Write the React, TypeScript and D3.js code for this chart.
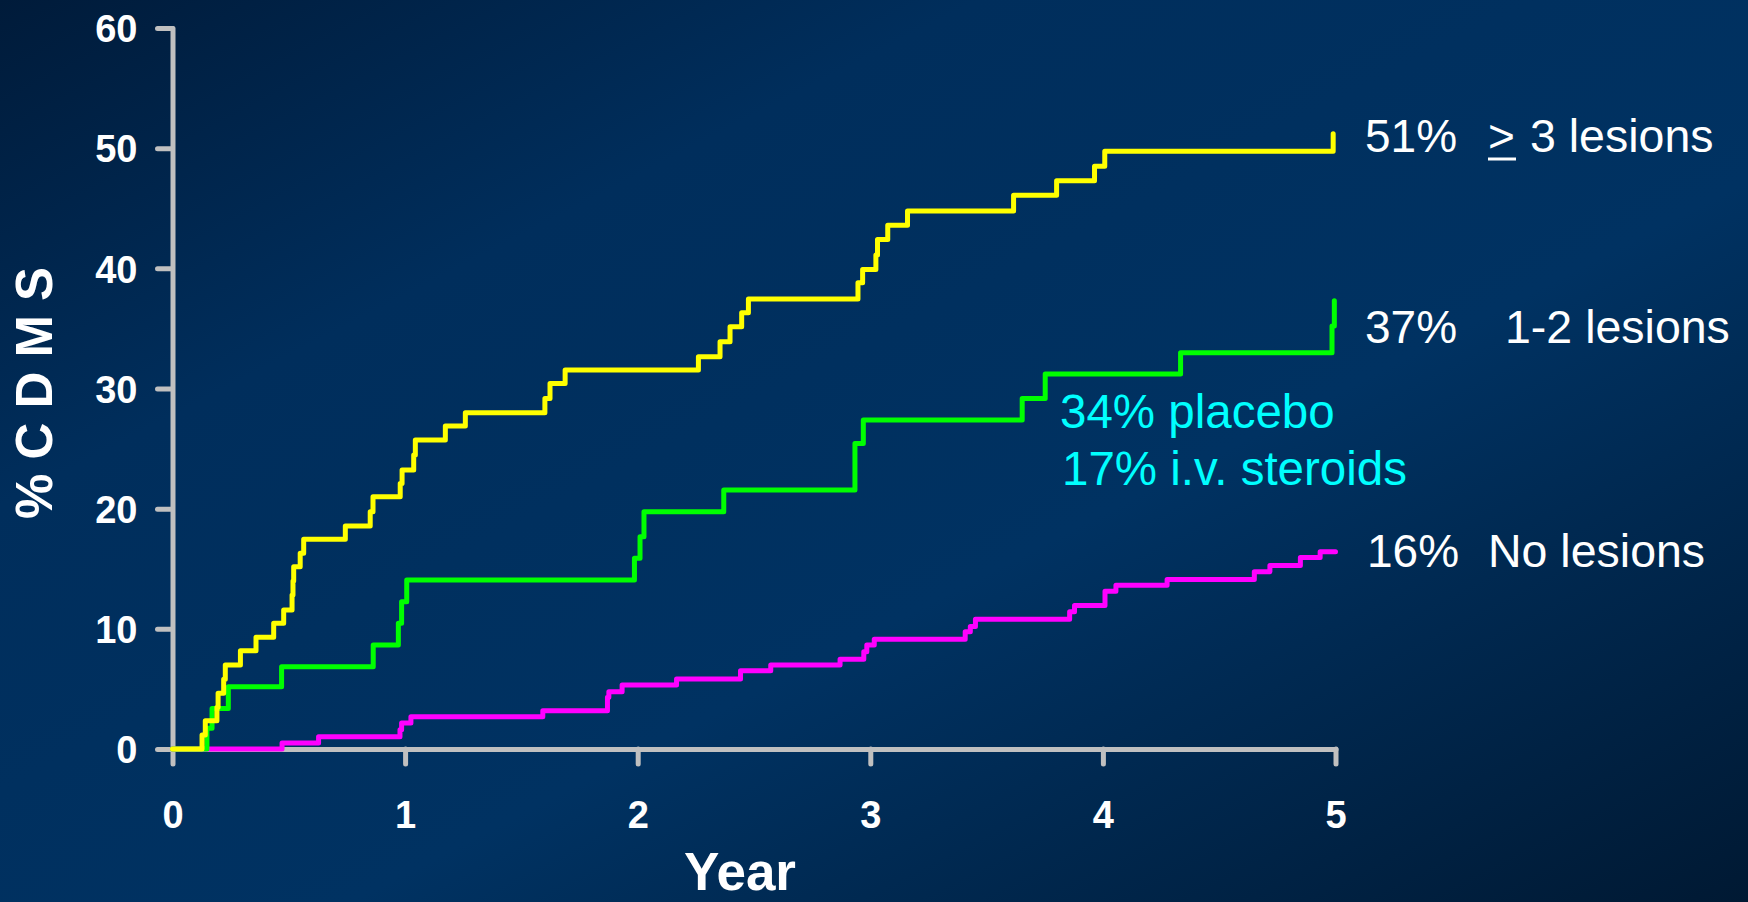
import { useRef, useEffect } from 'react';
import * as d3 from 'd3';

// Kaplan-Meier style step data: [year, % CDMS]
const threePlusLesions: [number, number][] = [
  [0, 0], [0.127, 1.16], [0.141, 2.35], [0.191, 3.47], [0.196, 4.63], [0.22, 5.8], [0.227, 6.99],
  [0.292, 8.18], [0.359, 9.29], [0.435, 10.46], [0.478, 11.56], [0.514, 12.81], [0.518, 13.98],
  [0.521, 15.17], [0.549, 16.28], [0.564, 17.45], [0.743, 18.55], [0.85, 19.74], [0.862, 20.99],
  [0.979, 22.1], [0.987, 23.21], [1.037, 24.46], [1.044, 25.71], [1.173, 26.87], [1.259, 27.98],
  [1.601, 29.17], [1.623, 30.42], [1.688, 31.53], [2.261, 32.64], [2.354, 33.89], [2.397, 35.13],
  [2.447, 36.3], [2.476, 37.44], [2.947, 38.8], [2.967, 39.91], [3.024, 41.1], [3.031, 42.4],
  [3.075, 43.59], [3.16, 44.78], [3.616, 46.09], [3.801, 47.28], [3.964, 48.5], [4.008, 49.75],
  [4.99, 51.2],
];

const oneTwoLesions: [number, number][] = [
  [0, 0], [0.148, 1.72], [0.17, 3.38], [0.24, 5.18], [0.469, 6.85], [0.863, 8.65], [0.971, 10.46],
  [0.985, 12.25], [1.007, 14.06], [1.986, 15.87], [2.01, 17.66], [2.027, 19.74], [2.37, 21.55],
  [2.934, 25.43], [2.97, 27.37], [3.653, 29.17], [3.752, 31.2], [4.334, 32.97], [4.985, 35.2],
  [4.995, 37.3],
];

const noLesions: [number, number][] = [
  [0, 0], [0.471, 0.5], [0.628, 1.02], [0.978, 1.6], [0.985, 2.16], [1.025, 2.69], [1.592, 3.19],
  [1.87, 4.3], [1.876, 4.77], [1.933, 5.32], [2.167, 5.82], [2.442, 6.52], [2.572, 6.99],
  [2.87, 7.46], [2.972, 8.1], [2.985, 8.65], [3.017, 9.13], [3.408, 9.76], [3.43, 10.2],
  [3.452, 10.79], [3.857, 11.42], [3.878, 11.95], [4.009, 13.12], [4.056, 13.62], [4.276, 14.1],
  [4.651, 14.75], [4.718, 15.28], [4.849, 15.93], [4.934, 16.42], [5.0, 16.42],
];

const yTicks = [0, 10, 20, 30, 40, 50, 60];
const xTicks = [0, 1, 2, 3, 4, 5];

const FONT = "'Liberation Sans', Arial, Helvetica, sans-serif";

const App = () => {
  const svgRef = useRef<SVGSVGElement>(null);

  useEffect(() => {
    if (!svgRef.current) return;
    const W = 1748, H = 902;
    const svg = d3.select(svgRef.current);
    svg.selectAll('*').remove();
    svg.attr('width', W).attr('height', H);

    // background
    const defs = svg.append('defs');
    const bg = defs.append('linearGradient')
      .attr('id', 'bg')
      .attr('x1', '0%').attr('y1', '0%')
      .attr('x2', '100%').attr('y2', '100%');
    bg.append('stop').attr('offset', '0%').attr('stop-color', '#001b3a');
    bg.append('stop').attr('offset', '28%').attr('stop-color', '#002e5c');
    bg.append('stop').attr('offset', '60%').attr('stop-color', '#003262');
    bg.append('stop').attr('offset', '100%').attr('stop-color', '#001933');
    svg.append('rect').attr('width', W).attr('height', H).attr('fill', 'url(#bg)');

    const x = d3.scaleLinear().domain([0, 5]).range([172.5, 1335.5]);
    const y = d3.scaleLinear().domain([0, 60]).range([749, 28]);

    const axisColor = '#c0c0c0';

    const yAxis = svg.append('g')
      .attr('transform', `translate(${x(0)},0)`)
      .call(d3.axisLeft(y).tickValues(yTicks).tickFormat(d3.format('d')).tickSize(15).tickSizeOuter(0).tickPadding(20));
    const xAxis = svg.append('g')
      .attr('transform', `translate(0,${y(0)})`)
      .call(d3.axisBottom(x).tickValues(xTicks).tickFormat(d3.format('d')).tickSize(15).tickSizeOuter(0).tickPadding(37));

    [yAxis, xAxis].forEach(ax => {
      ax.select('.domain').attr('stroke', axisColor).attr('stroke-width', 5).attr('stroke-linecap', 'round');
      ax.selectAll('line').attr('stroke', axisColor).attr('stroke-width', 5).attr('stroke-linecap', 'round');
      ax.selectAll('text')
        .attr('fill', '#ffffff')
        .style('font-family', FONT)
        .style('font-size', '38px')
        .style('font-weight', 'bold');
    });
    yAxis.selectAll('text').attr('dy', '0.36em');

    // axis titles
    svg.append('text')
      .attr('x', 740).attr('y', 890)
      .attr('text-anchor', 'middle')
      .attr('fill', '#ffffff')
      .style('font-family', FONT).style('font-size', '53px').style('font-weight', 'bold')
      .text('Year');

    svg.append('text')
      .attr('transform', 'translate(52,393) rotate(-90)')
      .attr('text-anchor', 'middle')
      .attr('fill', '#ffffff')
      .style('font-family', FONT).style('font-size', '51px').style('font-weight', 'bold')
      .text('% C D M S');

    // step curves
    const line = d3.line<[number, number]>()
      .curve(d3.curveStepAfter)
      .x(d => x(d[0]))
      .y(d => y(d[1]));

    const series: { data: [number, number][]; color: string }[] = [
      { data: noLesions, color: '#ff00ff' },
      { data: oneTwoLesions, color: '#00ff00' },
      { data: threePlusLesions, color: '#ffff00' },
    ];
    series.forEach(s => {
      svg.append('path')
        .datum(s.data)
        .attr('fill', 'none')
        .attr('stroke', s.color)
        .attr('stroke-width', 5)
        .attr('stroke-linejoin', 'round')
        .attr('stroke-linecap', 'round')
        .attr('d', line);
    });

    // end labels
    const label = (tx: number, ty: number, txt: string, color = '#ffffff', size = 46) =>
      svg.append('text')
        .attr('x', tx).attr('y', ty)
        .attr('fill', color)
        .style('font-family', FONT).style('font-size', `${size}px`)
        .text(txt);

    label(1365, 152, '51%');
    label(1488, 152, '>');
    svg.append('line')
      .attr('x1', 1488).attr('x2', 1516).attr('y1', 159).attr('y2', 159)
      .attr('stroke', '#ffffff').attr('stroke-width', 3);
    label(1530, 152, '3 lesions', '#ffffff', 46.5);

    label(1365, 343, '37%');
    label(1505, 343, '1-2 lesions', '#ffffff', 46.5);

    label(1367, 567, '16%');
    label(1488, 567, 'No lesions', '#ffffff', 46.5);

    label(1060, 428, '34% placebo', '#00ffff', 47.5);
    label(1062, 485, '17% i.v. steroids', '#00ffff', 47.5);
  }, []);

  return (
    <div style={{ position: 'absolute', left: 0, top: 0, width: 1748, height: 902, overflow: 'hidden' }}>
      <svg ref={svgRef} style={{ display: 'block' }} />
    </div>
  );
};

export default App;
